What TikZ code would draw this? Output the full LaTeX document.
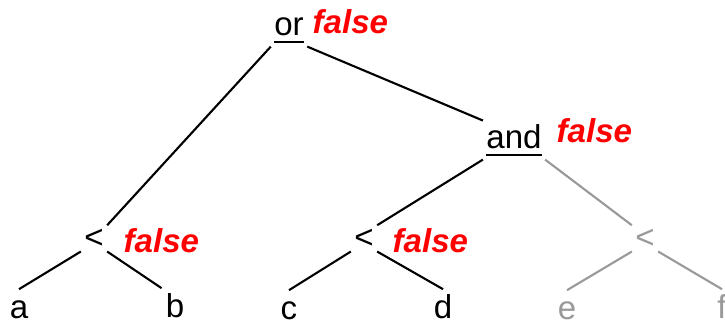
\documentclass[tikz,border=0pt]{standalone}
\usepackage{fontspec}
\setmainfont{Liberation Sans}
\usetikzlibrary{positioning}
\definecolor{dimgray}{HTML}{999999}
\definecolor{valred}{HTML}{FF0000}
\newcommand{\oplbl}[1]{\vtop{\hbox{#1}\kern1.5pt\hrule height 0.7pt}}

\begin{document}
\begin{tikzpicture}[
    x=0.01cm, y=-0.01cm,
    op/.style={inner sep=0pt, outer sep=1pt, anchor=base,
               font=\fontsize{9.4}{11}\selectfont},
    leaf/.style={inner sep=1pt, anchor=base, text height=7pt, text depth=0pt,
                 font=\fontsize{9.4}{11}\selectfont},
    val/.style={inner sep=0pt, anchor=base west, text=valred,
                font=\fontsize{9.4}{11}\selectfont\bfseries\itshape},
    edge/.style={line width=0.6pt},
    off/.style={dimgray}
  ]
  \useasboundingbox (0,0) rectangle (725,323);

  % operators
  \node[op] (or)  at (289, 35)  {\oplbl{or}};
  \node[op] (and) at (514, 148) {\oplbl{and}};
  \node[op] (lt1) at (94, 248)  {<};
  \node[op] (lt2) at (364, 248) {<};
  \node[op, text=dimgray] (lt3) at (645, 248) {<};

  % values
  \node[val] (vor)  at (312, 33)  {false};
  \node[val] (vand) at (556, 142) {false};
  \node[val] (v1)   at (123, 252) {false};
  \node[val] (v2)   at (392, 252) {false};

  % leaves
  \node[leaf] (a) at (19, 318)  {a};
  \node[leaf] (b) at (175, 317) {b};
  \node[leaf] (c) at (289, 319) {c};
  \node[leaf] (d) at (443, 318) {d};
  \node[leaf, text=dimgray] (e) at (567, 319) {e};
  \node[leaf, text=dimgray] (f) at (722, 318) {f};

  % edges
  \draw[edge] (or.south west) -- (lt1.north east);
  \draw[edge] (or.south east) -- (and.north west);
  \draw[edge] (and.south west) -- (lt2.north east);
  \draw[edge, off] (and.south east) -- (lt3.north west);
  \draw[edge] (lt1.south west) -- (a.north);
  \draw[edge] (lt1.south east) -- (b.north west);
  \draw[edge] (lt2.south west) -- (c.north);
  \draw[edge] (lt2.south east) -- (d.north);
  \draw[edge, off] (lt3.south west) -- (e.north);
  \draw[edge, off] (lt3.south east) -- (f.north);
\end{tikzpicture}
\end{document}
